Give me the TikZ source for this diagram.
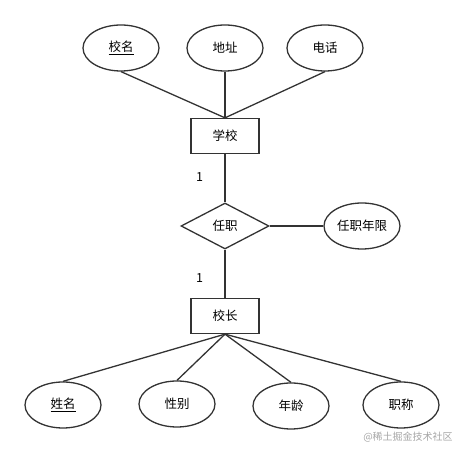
\documentclass[tikz,border=0pt]{standalone}
\usepackage{fontspec}
\setmainfont{Noto Sans CJK SC}
\usetikzlibrary{shapes.geometric}

\begin{document}
\begin{tikzpicture}[x=1pt,y=-1pt,line width=1.3pt,font=\fontsize{12.5}{14}\selectfont,
	attr/.style={shape=ellipse,draw=black!80,minimum width=76pt,minimum height=46pt,inner sep=0pt},
	entity/.style={shape=rectangle,draw=black!80,minimum width=68pt,minimum height=35pt,inner sep=0pt},
	relation/.style={shape=diamond,draw=black!80,minimum width=88pt,minimum height=46pt,inner sep=0pt},
	link/.style={draw=black!80}]
	
	\useasboundingbox (0,0) rectangle (464,454);
	
	\node[attr] (xm) at (121, 48)     {\underline{校名}};
	\node[attr] (dz) at (225, 48)     {地址};
	\node[attr] (dh) at (325, 48)     {电话};
	\node[entity] (xx) at (225, 136)  {学校};
	\node[relation] (rz) at (225, 226) {任职};
	\node[attr] (nx) at (362, 226)    {任职年限};
	\node[entity] (xz) at (225, 316)  {校长};
	\node[attr] (name) at (63, 405)   {\underline{姓名}};
	\node[attr] (sex) at (177, 404)   {性别};
	\node[attr] (age) at (291, 406)   {年龄};
	\node[attr] (zc) at (401, 405)    {职称};
	\path[link] (xm.south) -- (xx.north);
	\path[link] (dz) -- (xx);
	\path[link] (dh.south) -- (xx.north);
	\path[link] (xx) edge  node[pos=0.47,left=18pt] {1} (rz);
	\path[link] (rz) edge  node[pos=0.59,left=18pt] {1} (xz);
	\path[link] (rz) -- (nx);
	\path[link] (xz.south) -- (name.north);
	\path[link] (xz.south) -- (sex.north);
	\path[link] (xz.south) -- (age.north);
	\path[link] (xz.south) -- (zc.north);
	\node[text=black!35,font=\fontsize{10}{12}\selectfont] (wm) at (408, 437) {@稀土掘金技术社区};
	
\end{tikzpicture}
\end{document}
